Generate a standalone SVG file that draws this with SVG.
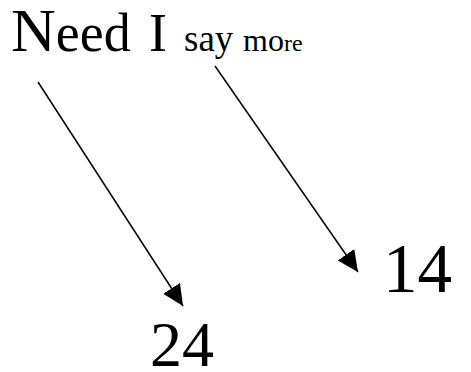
<svg xmlns="http://www.w3.org/2000/svg" width="471" height="372" viewBox="0 0 471 372">
<style>
text{font-family:"Liberation Serif","Times New Roman",serif;fill:#000}
.c{stroke:#000;stroke-width:1.5;fill:none}
</style>
<defs>
<marker id="ah" markerUnits="userSpaceOnUse" markerWidth="22" markerHeight="22" refX="21" refY="10" orient="auto">
<path d="M0,0 L21,10 L0,20 Z" fill="#000"/>
</marker>
</defs>
<rect width="471" height="372" fill="#fff"/>
<g id="title">
<text y="51"><tspan x="11" font-size="62">N</tspan><tspan font-size="54">eed</tspan><tspan x="149" font-size="54">I</tspan><tspan x="184" font-size="37">say</tspan><tspan x="243" font-size="32">mo</tspan><tspan font-size="24">re</tspan></text>
</g>
<g id="n24"><text x="150" y="366" font-size="64">24</text></g>
<g id="n14"><text x="383" y="292" font-size="69">14</text></g>
<g id="connectors">
<line class="c" x1="38" y1="82" x2="183" y2="306" marker-end="url(#ah)"/>
<line class="c" x1="215" y1="66" x2="358" y2="272" marker-end="url(#ah)"/>
</g>
</svg>
